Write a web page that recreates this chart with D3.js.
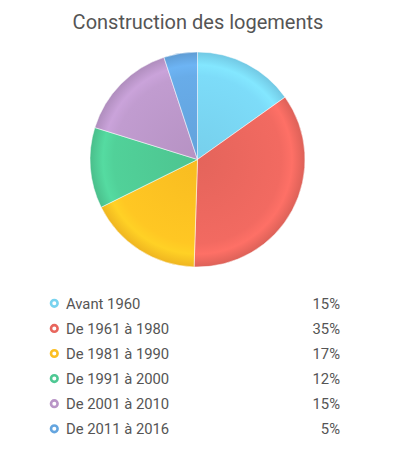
<!DOCTYPE html>
<html>
<head>
<meta charset="utf-8">
<script src="https://cdn.jsdelivr.net/npm/d3@7"></script>
<style>
  body { margin: 0; background: #fff; font-family: Roboto, sans-serif; }
  svg { display: block; }
</style>
</head>
<body>
<svg id="chart" width="398" height="456"></svg>
<script>
const categories = ['Avant 1960', 'De 1961 à 1980', 'De 1981 à 1990', 'De 1991 à 2000', 'De 2001 à 2010', 'De 2011 à 2016']
const values = [15, 35, 17, 12, 15, 5]
const colors = ['#78d3ef', '#e8665d', '#fcbf22', '#4ec893', '#b995c7', '#64a5df']
const title = 'Construction des logements'

const data = categories.map((c, i) => ({ name: c, value: values[i], color: colors[i] }))

const svg = d3.select('#chart')
const cx = 197.5
const cy = 159.5
const radius = 107.5

svg.append('text')
  .attr('x', 198)
  .attr('y', 29)
  .attr('text-anchor', 'middle')
  .attr('fill', '#555')
  .style('font-size', '20px')
  .text(title)

// radial gradients: base at center, lighter ring near the rim, darker rim
const defs = svg.append('defs')
data.forEach((d, i) => {
  const base = d3.color(d.color)
  const g = defs.append('radialGradient')
    .attr('id', 'grad' + i)
    .attr('gradientUnits', 'userSpaceOnUse')
    .attr('cx', 0).attr('cy', 0).attr('r', radius)
  g.append('stop').attr('offset', '0%').attr('stop-color', base.darker(0.05))
  g.append('stop').attr('offset', '78%').attr('stop-color', base.brighter(0.12))
  g.append('stop').attr('offset', '88%').attr('stop-color', base.brighter(0.25))
  g.append('stop').attr('offset', '100%').attr('stop-color', base.darker(0.15))
})

const pie = d3.pie().sort(null).value(d => d.value)
const arc = d3.arc().innerRadius(0).outerRadius(radius)

svg.append('g')
  .attr('transform', `translate(${cx},${cy})`)
  .selectAll('path')
  .data(pie(data))
  .join('path')
  .attr('d', arc)
  .attr('fill', (d, i) => `url(#grad${i})`)
  .attr('stroke', '#fff')
  .attr('stroke-width', 0.5)

// legend
const y = d3.scalePoint()
  .domain(categories)
  .range([308.5, 434])

const legend = svg.append('g')
  .selectAll('g')
  .data(data)
  .join('g')
  .attr('transform', d => `translate(0,${y(d.name)})`)

legend.append('circle')
  .attr('cx', 54.3)
  .attr('cy', -5.2)
  .attr('r', 3.3)
  .attr('fill', '#fff')
  .attr('stroke', d => d.color)
  .attr('stroke-width', 2.6)

legend.append('text')
  .attr('x', 66)
  .attr('y', 0)
  .attr('fill', '#555')
  .style('font-size', '14.8px')
  .text(d => d.name)

legend.append('text')
  .attr('x', 340)
  .attr('y', 0)
  .attr('text-anchor', 'end')
  .attr('fill', '#555')
  .style('font-size', '14.8px')
  .text(d => d.value + '%')
</script>
</body>
</html>
